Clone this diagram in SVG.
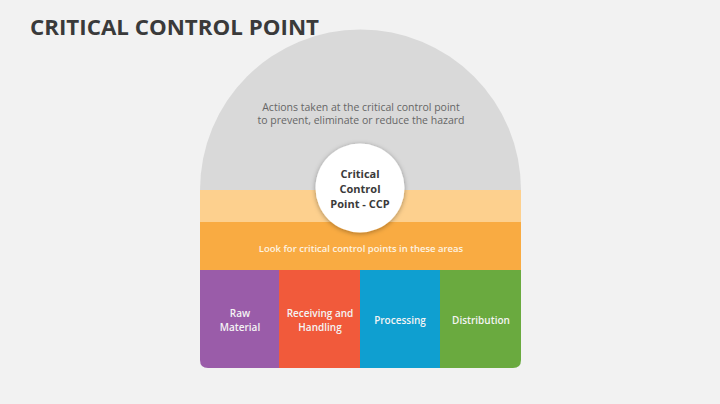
<svg xmlns="http://www.w3.org/2000/svg" width="720" height="404" viewBox="0 0 720 404">
<defs>
<style>
.t{font-family:"Open Sans","Liberation Sans",sans-serif;text-anchor:middle}
.box{font-family:"Open Sans","Liberation Sans",sans-serif;text-anchor:middle;font-size:10px;font-weight:600;fill:#f4f4f4}
</style>
<clipPath id="dome">
<path d="M200,190 A160.5,160.5 0 0 1 521,190 L521,360 Q521,368 513,368 L208,368 Q200,368 200,360 Z"/>
</clipPath>
<filter id="sh" x="-30%" y="-30%" width="160%" height="160%">
<feDropShadow dx="0" dy="1" stdDeviation="2.5" flood-color="#000" flood-opacity="0.35"/>
</filter>
</defs>
<rect width="720" height="404" fill="#f2f2f2"/>
<text x="30" y="35" font-family="Open Sans, Liberation Sans, sans-serif" font-weight="bold" font-size="22" fill="#3a3a3a" textLength="289" lengthAdjust="spacingAndGlyphs">CRITICAL CONTROL POINT</text>
<g id="dome-shape" clip-path="url(#dome)">
<rect x="200" y="25" width="321" height="166" fill="#d9d9d9"/>
<rect x="200" y="190" width="321" height="33" fill="#fdd08e"/>
<rect x="200" y="222" width="321" height="49" fill="#f9ab42"/>
<rect x="200" y="270" width="80" height="100" fill="#9a5ca9"/>
<rect x="279" y="270" width="82" height="100" fill="#f15a3b"/>
<rect x="360" y="270" width="81" height="100" fill="#0f9fd0"/>
<rect x="440" y="270" width="81" height="100" fill="#6aaa3f"/>
</g>
<g id="top-text">
<text class="t" x="361" y="111" font-size="10.5" fill="#666">Actions taken at the critical control point</text>
<text class="t" x="361" y="124" font-size="10.5" fill="#666">to prevent, eliminate or reduce the hazard</text>
</g>
<g id="ccp">
<circle cx="360" cy="188" r="44.5" fill="#fff" filter="url(#sh)"/>
<text class="t" x="360" y="178" font-size="11" font-weight="bold" fill="#3a3a3a">Critical</text>
<text class="t" x="360" y="193" font-size="11" font-weight="bold" fill="#3a3a3a">Control</text>
<text class="t" x="360" y="208" font-size="11" font-weight="bold" fill="#3a3a3a">Point - CCP</text>
</g>
<g id="band-text">
<text class="t" x="361" y="252" font-size="9.5" font-weight="600" fill="#fdf3e3">Look for critical control points in these areas</text>
</g>
<g id="raw-material">
<text class="box" x="240" y="317">Raw</text>
<text class="box" x="240" y="331">Material</text>
</g>
<g id="receiving">
<text class="box" x="320" y="317">Receiving and</text>
<text class="box" x="320" y="331">Handling</text>
</g>
<g id="processing">
<text class="box" x="400" y="324">Processing</text>
</g>
<g id="distribution">
<text class="box" x="481" y="324">Distribution</text>
</g>
<g id="connectors"></g>
</svg>
